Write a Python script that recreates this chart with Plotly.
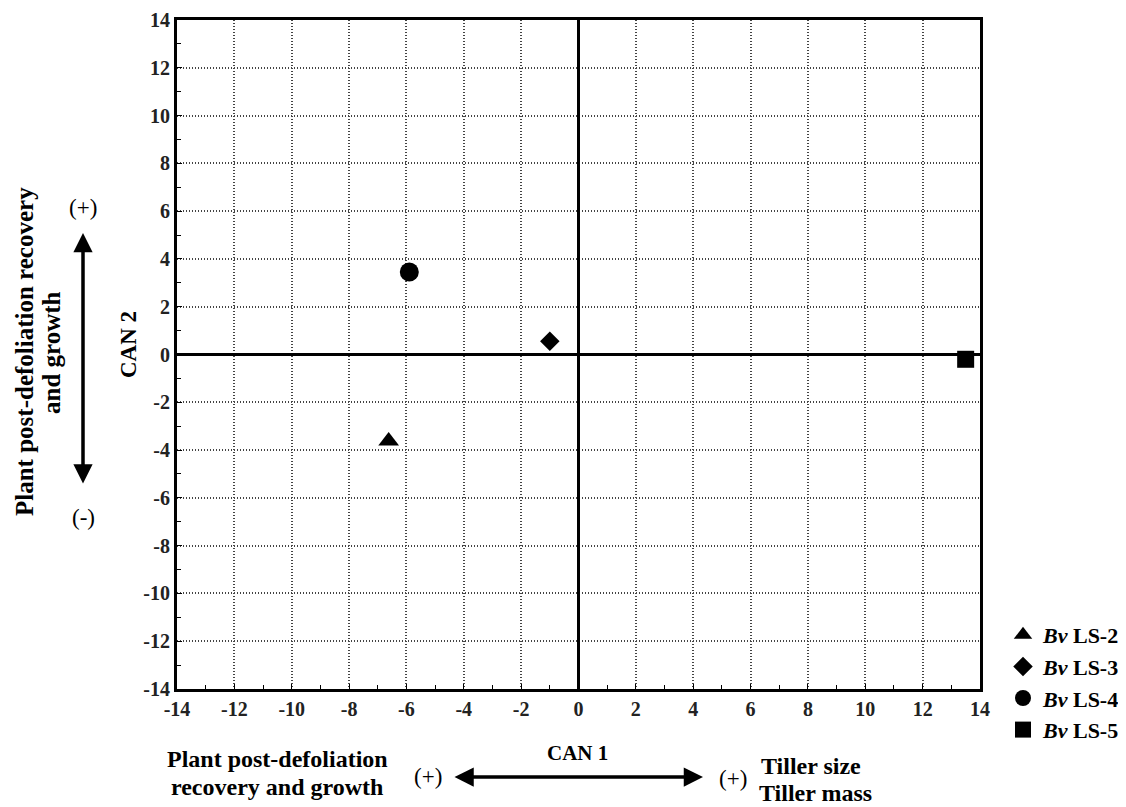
import plotly.graph_objects as go

series_names = ["LS-2", "LS-3", "LS-4", "LS-5"]
can1 = [-6.62, -1.0, -5.9, 13.5]
can2 = [-3.62, 0.55, 3.45, -0.2]
symbols = ["triangle-up", "diamond", "circle", "square"]
tick_vals = list(range(-14, 15, 2))
tick_text = [str(v) for v in tick_vals]

FONT = "Liberation Serif"
OFF = 8  # page body margin
W, H = 1118, 799
L, T = 169, 12
pw, ph = 803, 669
R = W - L - pw
B = H - T - ph

def px(xs):
    return (xs - OFF - L) / pw

def py(ys):
    return (T + ph - (ys - OFF)) / ph

fig = go.Figure()
sizes = [18, 15, 19, 17]
for n, x, y, s, sz in zip(series_names, can1, can2, symbols, sizes):
    fig.add_trace(go.Scatter(
        x=[x], y=[y], mode="markers", name=f"<b><i>Bv</i> {n}</b>",
        marker=dict(symbol=s, size=sz, color="black"),
    ))

axis_common = dict(
    range=[-14, 14], tickvals=tick_vals, ticktext=tick_text, showgrid=True,
    gridcolor="#444", griddash="1px,2px", gridwidth=1.5, zeroline=True,
    zerolinecolor="black", zerolinewidth=3, showline=True, linecolor="black",
    linewidth=3, mirror=True, ticks="inside", ticklen=5, tickcolor="black",
    automargin=False,
    tickfont=dict(family=FONT, size=20, color="#222", weight="bold"),
    minor=dict(dtick=1, ticks="inside", ticklen=4, tickcolor="black", showgrid=False),
)
fig.update_xaxes(**axis_common)
fig.update_yaxes(**axis_common)

anns = []
def txt(x, y, text, size=24, angle=0):
    anns.append(dict(x=px(x), y=py(y), xref="paper", yref="paper", text=text,
                     showarrow=False, textangle=angle, xanchor="center", yanchor="middle",
                     font=dict(family=FONT, size=size, color="black")))

# left side labels
txt(24, 352, "<b>Plant post-defoliation recovery</b>", 25, -90)
txt(51, 353, "<b>and growth</b>", 25, -90)
txt(83, 208, "(+)", 23)
txt(83, 517, "(-)", 23)
txt(128, 345, "<b>CAN 2</b>", 23, -90)
# bottom labels
txt(577, 753, "<b>CAN 1</b>", 21)
txt(277, 759, "<b>Plant post-defoliation</b>", 24)
txt(277, 787, "<b>recovery and growth</b>", 24)
txt(428, 776, "(+)", 23)
txt(733, 778, "(+)", 23)
txt(811, 766, "<b>Tiller size</b>", 24)
txt(815, 793, "<b>Tiller mass</b>", 24)

# arrows
anns.append(dict(x=px(83), y=py(233), xref="paper", yref="paper", ax=0, ay=252,
                 axref="pixel", ayref="pixel", showarrow=True, arrowhead=2,
                 arrowside="end+start", arrowwidth=3.5, arrowsize=1.1, arrowcolor="black", text=""))
anns.append(dict(x=px(703), y=py(777), xref="paper", yref="paper", ax=-250, ay=0,
                 axref="pixel", ayref="pixel", showarrow=True, arrowhead=2,
                 arrowside="end+start", arrowwidth=3.5, arrowsize=1.1, arrowcolor="black", text=""))

fig.update_layout(
    width=W, height=H, margin=dict(l=L, r=R, t=T, b=B, autoexpand=False),
    plot_bgcolor="white", paper_bgcolor="white",
    annotations=anns,
    legend=dict(x=(1003 - OFF) / W, y=1 - (614 - OFF) / H, xref="container", yref="container",
                xanchor="left", yanchor="top",
                font=dict(family=FONT, size=22, color="black"),
                bgcolor="rgba(0,0,0,0)", itemwidth=30, tracegroupgap=0),
    showlegend=True,
)
fig.write_html("out.html")
